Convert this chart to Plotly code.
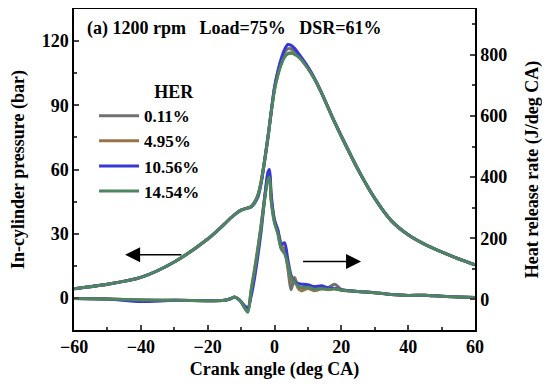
import plotly.graph_objects as go

crank_angle = [-60, -50, -40, -30, -20, -15, -13, -12, -11, -10, -9, -8, -7, -6, -5,
               -4, -3, -2, -1.5, -1, 0, 1, 2, 3, 4, 5, 6, 7, 8, 10, 12, 14, 16, 18, 20,
               25, 30, 35, 40, 45, 50, 55, 60]

her_labels = ["0.11%", "4.95%", "10.56%", "14.54%"]
colors = ["#707070", "#9a7446", "#3838d4", "#4e8560"]

pressure_011 = [4.3, 6.4, 9.6, 16.8, 27.5, 34.5, 37.5, 38.8, 40, 41, 41.6, 42, 42.6, 44.5, 47.5,
                54, 64, 75, 81, 87, 98, 105.5, 111, 114.8, 116.4, 116.3, 115.2, 113.6, 111.8, 107.5,
                102.3, 96, 89, 82, 75.5, 60, 46.5, 36, 29.5, 25, 21.5, 18.3, 15.5]
pressure_495 = [4.3, 6.4, 9.6, 16.8, 27.5, 34.5, 37.5, 38.8, 40, 41, 41.6, 42, 42.8, 44.8, 48,
                54.5, 64, 74.5, 80.5, 86.5, 97.5, 104.5, 109.5, 112.8, 114.3, 114.6, 114.1, 113, 111.5, 107.3,
                102.2, 96, 89, 82, 75.5, 60, 46.5, 36, 29.5, 25, 21.5, 18.3, 15.5]
pressure_1056 = [4.3, 6.4, 9.6, 16.8, 27.5, 34.5, 37.5, 38.8, 40, 41, 41.6, 42, 42.5, 44.2, 47,
                 53.5, 63.5, 74.5, 80.5, 86.8, 98.5, 106, 111.8, 116, 118.4, 118, 116.6, 114.6, 112.5, 108,
                 102.6, 96.2, 89.2, 82.2, 75.7, 60, 46.5, 36, 29.5, 25, 21.5, 18.3, 15.5]
pressure_1454 = [4.3, 6.4, 9.6, 16.8, 27.5, 34.5, 37.5, 38.8, 40, 41, 41.6, 42, 42.7, 44.6, 47.8,
                 54.2, 63.8, 74.5, 80.5, 86.5, 97, 104, 109, 112.5, 114, 114.3, 113.8, 112.8, 111.3, 107.2,
                 102.2, 96, 89, 82, 75.5, 60, 46.5, 36, 29.5, 25, 21.5, 18.3, 15.5]

hrr_011 = [3, 1, -2, -3, -4, -3, 3, 8, 3, -8, -25, -38, 22, 85, 158,
           238, 328, 400, 412, 330, 255, 218, 170, 165, 100, 32, 72, 42, 38, 45,
           35, 40, 38, 50, 33, 26, 22, 16, 13, 14, 10, 8, 6]
hrr_495 = [3, 1, -2, -3, -4, -3, 3, 8, 3, -8, -26, -38, 32, 98, 168,
           245, 330, 398, 406, 330, 262, 225, 182, 162, 108, 58, 70, 38, 28, 36,
           28, 34, 32, 36, 30, 26, 22, 16, 13, 14, 10, 8, 6]
hrr_1056 = [3, 1, -7, -3, -4, -3, 3, 7, 2, -7, -20, -28, 10, 68, 140,
            222, 325, 415, 425, 345, 258, 228, 180, 185, 130, 78, 58, 52, 50, 48,
            42, 45, 38, 36, 32, 26, 22, 16, 13, 14, 10, 8, 6]
hrr_1454 = [3, 1, -2, -3, -4, -3, 3, 8, 3, -8, -27, -42, 28, 92, 162,
            238, 322, 390, 400, 322, 250, 215, 165, 150, 115, 70, 55, 45, 38, 40,
            33, 36, 33, 34, 31, 26, 22, 16, 13, 14, 10, 8, 6]

pressures = [pressure_011, pressure_495, pressure_1056, pressure_1454]
hrrs = [hrr_011, hrr_495, hrr_1056, hrr_1454]

FONT = "Liberation Serif"

fig = go.Figure()
for lab, col, p in zip(her_labels, colors, pressures):
    fig.add_trace(go.Scatter(x=crank_angle, y=p, mode="lines", name=lab, legendgroup=lab,
                             line=dict(color=col, width=3, shape="spline", smoothing=0.8),
                             yaxis="y"))
for lab, col, h in zip(her_labels, colors, hrrs):
    fig.add_trace(go.Scatter(x=crank_angle, y=h, mode="lines", name=lab, legendgroup=lab,
                             showlegend=False,
                             line=dict(color=col, width=3, shape="spline", smoothing=0.8),
                             yaxis="y2"))

tickfont = dict(family=FONT, size=18, color="black", weight="bold")
titlefont = dict(family=FONT, size=18, color="black", weight="bold")

# page body has an 8 px margin, so the figure is 8 px smaller than the window
fig.update_layout(
    width=542, height=381,
    margin=dict(l=66, r=75, t=1, b=59),
    paper_bgcolor="white", plot_bgcolor="white",
    font=dict(family=FONT, size=18, color="black", weight="bold"),
    showlegend=True,
    legend=dict(x=0.05, y=0.795, xanchor="left", yanchor="top",
                bgcolor="rgba(0,0,0,0)", font=dict(family=FONT, size=17, color="black", weight="bold"),
                title=dict(text="\u00a0" * 11 + "HER", side="top center",
                           font=dict(family=FONT, size=18, color="black", weight="bold")),
                tracegroupgap=0, itemwidth=40),
    xaxis=dict(range=[-60, 60], dtick=20, tick0=-60, ticks="inside", ticklen=5, tickwidth=1.5,
               minor=dict(dtick=10, ticks="inside", ticklen=3, tickwidth=1.5),
               showline=True, linecolor="black", linewidth=1.5, mirror=True,
               showgrid=False, zeroline=False, tickfont=tickfont, automargin=False,
               title=dict(text="Crank angle (deg CA)", font=titlefont, standoff=6)),
    yaxis=dict(range=[-15, 135], tickvals=[0, 30, 60, 90, 120], ticks="inside", ticklen=5, tickwidth=1.5,
               minor=dict(tickvals=[-15, 15, 45, 75, 105, 135], ticks="inside", ticklen=3, tickwidth=1.5),
               showline=True, linecolor="black", linewidth=1.5, automargin=False,
               showgrid=False, zeroline=False, tickfont=tickfont,
               title=dict(text="In-cylinder pressure (bar)", font=titlefont, standoff=14)),
    yaxis2=dict(range=[-100, 950], tickvals=[0, 200, 400, 600, 800], overlaying="y", side="right",
                ticks="inside", ticklen=5, tickwidth=1.5, automargin=False,
                minor=dict(tickvals=[-100, 100, 300, 500, 700, 900], ticks="inside", ticklen=3, tickwidth=1.5),
                showline=True, linecolor="black", linewidth=1.5,
                showgrid=False, zeroline=False, tickfont=tickfont,
                title=dict(text="Heat release rate (J/deg CA)", font=titlefont, standoff=19)),
)

fig.add_annotation(text="(a) 1200 rpm\u00a0\u00a0\u00a0Load=75%\u00a0\u00a0\u00a0DSR=61%",
                   xref="paper", yref="paper", x=0.027, y=0.94, xanchor="left", yanchor="middle",
                   showarrow=False, font=dict(family=FONT, size=18, color="black", weight="bold"))

fig.add_annotation(x=-44.7, y=20.2, ax=-27.4, ay=20.2, xref="x", yref="y", axref="x", ayref="y",
                   text="", showarrow=True, arrowhead=2, arrowsize=2, arrowwidth=1.5, arrowcolor="black")
fig.add_annotation(x=25.9, y=17, ax=8.1, ay=17, xref="x", yref="y", axref="x", ayref="y",
                   text="", showarrow=True, arrowhead=2, arrowsize=2, arrowwidth=1.5, arrowcolor="black")

fig.write_html("out.html")
